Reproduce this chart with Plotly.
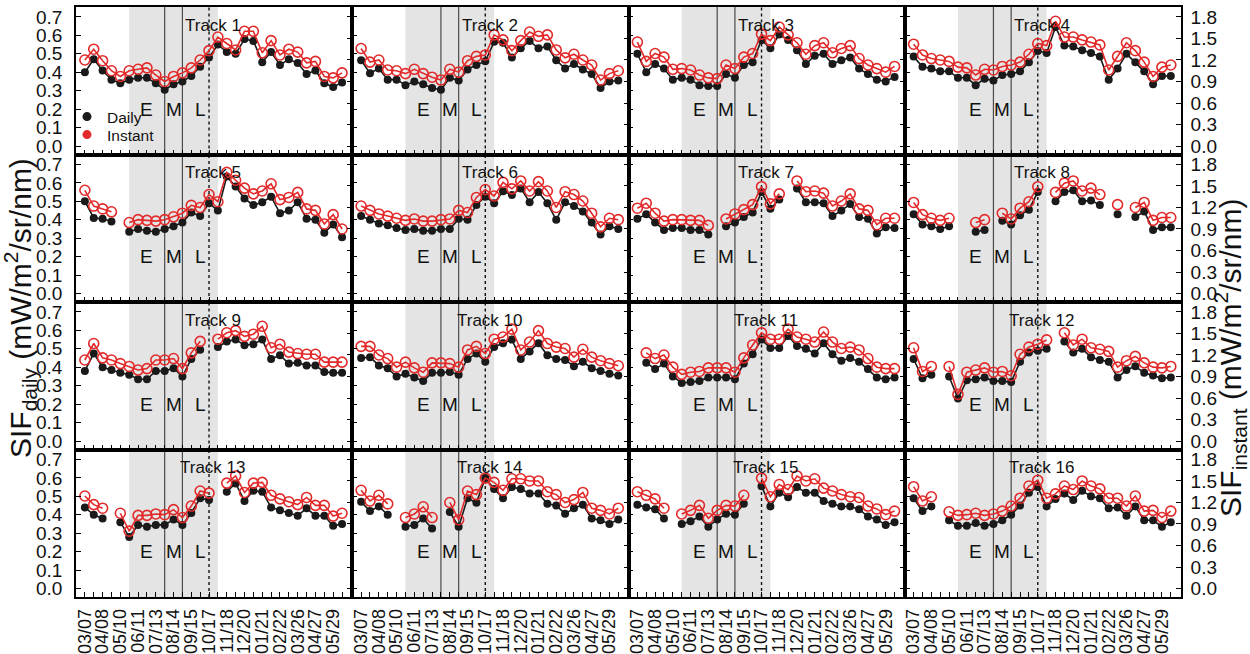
import plotly.graph_objects as go
from plotly.subplots import make_subplots

# Acquisition dates (every 16 days); every second one is labelled
TICK_LABELS = ["03/07", "04/08", "05/10", "06/11", "07/13", "08/14", "09/15", "10/17",
               "11/18", "12/20", "01/21", "02/22", "03/26", "04/27", "05/29"]
N_OBS = 30
N = None

# SIF daily (left axis) and SIF instant (right axis), mW/m2/sr/nm
T1_DAILY = [0.40, 0.47, 0.41, 0.36, 0.34, 0.36, 0.37, 0.37, 0.34, 0.305, 0.335, 0.35, 0.38, 0.43, 0.48,
            0.55, 0.51, 0.50, 0.58, 0.57, 0.455, 0.51, 0.44, 0.47, 0.45, 0.39, 0.41, 0.34, 0.32, 0.345]
T1_INSTANT = [1.20, 1.35, 1.19, 1.05, 0.97, 1.05, 1.07, 1.09, 0.99, 0.90, 0.97, 1.02, 1.09, 1.20, 1.33,
              1.52, 1.43, 1.34, 1.60, 1.60, 1.30, 1.47, 1.27, 1.35, 1.31, 1.16, 1.18, 0.97, 0.95, 1.02]
T2_DAILY = [0.465, 0.395, 0.42, 0.36, 0.36, 0.33, 0.35, 0.335, 0.315, 0.305, 0.37, 0.355, 0.415, 0.44, 0.46,
            0.565, 0.56, 0.48, 0.53, 0.57, 0.53, 0.54, 0.465, 0.42, 0.445, 0.415, 0.39, 0.315, 0.35, 0.355]
T2_INSTANT = [1.36, 1.17, 1.20, 1.06, 1.05, 1.01, 1.07, 1.01, 0.96, 0.92, 1.07, 1.03, 1.19, 1.25, 1.27,
              1.55, 1.48, 1.33, 1.47, 1.59, 1.53, 1.55, 1.34, 1.23, 1.28, 1.20, 1.13, 0.92, 1.01, 1.05]
T3_DAILY = [0.50, 0.40, 0.445, 0.42, 0.36, 0.37, 0.36, 0.33, 0.325, 0.325, 0.39, 0.37, 0.44, 0.455, 0.575,
            0.53, 0.605, 0.575, 0.52, 0.445, 0.49, 0.50, 0.445, 0.465, 0.48, 0.42, 0.39, 0.36, 0.35, 0.375]
T3_INSTANT = [1.45, 1.18, 1.29, 1.24, 1.07, 1.08, 1.06, 0.99, 0.95, 0.94, 1.13, 1.08, 1.24, 1.29, 1.56,
              1.47, 1.66, 1.55, 1.44, 1.28, 1.40, 1.44, 1.30, 1.36, 1.40, 1.22, 1.13, 1.08, 1.03, 1.11]
T4_DAILY = [0.485, 0.43, 0.42, 0.405, 0.405, 0.37, 0.37, 0.33, 0.365, 0.355, 0.385, 0.39, 0.405, 0.455, 0.515,
            0.505, 0.645, 0.545, 0.54, 0.52, 0.505, 0.485, 0.36, 0.42, 0.50, 0.455, 0.405, 0.335, 0.38, 0.38]
T4_INSTANT = [1.42, 1.27, 1.22, 1.20, 1.18, 1.10, 1.09, 0.99, 1.07, 1.06, 1.11, 1.13, 1.17, 1.28, 1.43,
              1.40, 1.74, 1.52, 1.52, 1.48, 1.45, 1.41, 1.06, 1.25, 1.44, 1.33, 1.17, 0.97, 1.10, 1.13]
T5_DAILY = [0.50, 0.41, 0.405, 0.39, N, 0.335, 0.35, 0.34, 0.335, 0.35, 0.365, 0.385, 0.44, 0.42, 0.49,
            0.45, 0.635, 0.58, 0.515, 0.48, 0.495, 0.525, 0.435, 0.45, 0.495, 0.405, 0.40, 0.33, 0.375, 0.305]
T5_INSTANT = [1.44, 1.22, 1.18, 1.14, N, 0.99, 1.03, 1.02, 1.01, 1.03, 1.07, 1.12, 1.23, 1.20, 1.38,
              1.28, 1.69, 1.58, 1.47, 1.39, 1.43, 1.53, 1.31, 1.34, 1.41, 1.18, 1.16, 0.97, 1.10, 0.90]
T6_DAILY = [0.42, 0.40, 0.38, 0.37, 0.355, 0.345, 0.35, 0.34, 0.34, 0.35, 0.35, 0.405, 0.40, 0.48, 0.525,
            0.49, 0.555, 0.535, 0.57, 0.495, 0.55, 0.49, 0.40, 0.495, 0.475, 0.445, 0.385, 0.32, 0.365, 0.35]
T6_INSTANT = [1.22, 1.16, 1.11, 1.08, 1.05, 1.02, 1.04, 1.01, 1.01, 1.03, 1.04, 1.16, 1.13, 1.34, 1.45,
              1.36, 1.55, 1.46, 1.57, 1.43, 1.56, 1.43, 1.20, 1.42, 1.38, 1.29, 1.12, 0.93, 1.05, 1.03]
T7_DAILY = [0.405, 0.43, 0.385, 0.345, 0.355, 0.355, 0.345, 0.345, 0.32, N, 0.365, 0.385, 0.415, 0.44, 0.55,
            0.46, 0.51, N, 0.57, 0.495, 0.495, 0.49, 0.42, 0.45, 0.485, 0.415, 0.405, 0.325, 0.36, 0.355]
T7_INSTANT = [1.19, 1.26, 1.12, 1.01, 1.03, 1.03, 1.02, 1.02, 0.95, N, 1.04, 1.11, 1.17, 1.24, 1.49,
              1.25, 1.39, N, 1.57, 1.42, 1.43, 1.40, 1.22, 1.29, 1.39, 1.18, 1.16, 0.96, 1.05, 1.05]
T8_DAILY = [0.43, 0.375, 0.365, 0.35, 0.365, N, N, 0.335, 0.345, N, 0.395, 0.375, 0.425, 0.455, 0.55,
            N, 0.50, 0.55, 0.56, 0.50, 0.505, 0.48, N, 0.43, N, 0.415, 0.445, 0.345, 0.36, 0.36]
T8_INSTANT = [1.27, 1.10, 1.05, 1.02, 1.05, N, N, 0.99, 1.03, N, 1.12, 1.04, 1.19, 1.28, 1.49,
              N, 1.41, 1.54, 1.57, 1.43, 1.47, 1.38, N, 1.24, N, 1.20, 1.27, 1.02, 1.06, 1.06]
T9_DAILY = [0.38, 0.475, 0.40, 0.385, 0.37, 0.36, 0.335, 0.335, 0.38, 0.38, 0.395, 0.35, 0.445, 0.495, N,
            0.51, 0.54, 0.55, 0.52, 0.525, 0.55, 0.445, 0.465, 0.42, 0.425, 0.41, 0.41, 0.375, 0.37, 0.37]
T9_INSTANT = [1.13, 1.36, 1.16, 1.13, 1.08, 1.04, 0.99, 1.01, 1.13, 1.13, 1.15, 1.01, 1.23, 1.39, N,
              1.42, 1.51, 1.54, 1.46, 1.49, 1.60, 1.30, 1.35, 1.24, 1.22, 1.21, 1.21, 1.10, 1.10, 1.10]
T10_DAILY = [0.45, 0.455, 0.41, 0.395, 0.35, 0.365, 0.345, 0.325, 0.37, 0.37, 0.375, 0.36, 0.445, 0.475, 0.43,
             0.51, 0.53, 0.55, 0.445, 0.485, 0.53, 0.465, 0.445, 0.44, 0.405, 0.43, 0.395, 0.38, 0.365, 0.355]
T10_INSTANT = [1.32, 1.32, 1.20, 1.15, 1.03, 1.10, 1.02, 0.96, 1.09, 1.09, 1.08, 1.03, 1.27, 1.32, 1.22,
               1.42, 1.45, 1.56, 1.27, 1.38, 1.54, 1.36, 1.31, 1.29, 1.17, 1.28, 1.17, 1.12, 1.08, 1.05]
T11_DAILY = [N, 0.425, 0.39, 0.42, 0.35, 0.315, 0.32, 0.325, 0.345, 0.345, 0.345, 0.335, 0.42, 0.47, 0.55,
             0.505, 0.505, 0.57, 0.515, 0.50, 0.475, 0.53, 0.47, 0.435, 0.45, 0.43, 0.39, 0.345, 0.335, 0.345]
T11_INSTANT = [N, 1.23, 1.15, 1.20, 1.03, 0.93, 0.96, 0.97, 1.02, 1.02, 1.02, 0.96, 1.16, 1.34, 1.51,
               1.42, 1.42, 1.56, 1.45, 1.42, 1.38, 1.52, 1.38, 1.29, 1.31, 1.27, 1.15, 1.03, 1.01, 1.01]
T12_DAILY = [0.445, 0.34, 0.36, N, 0.35, 0.23, 0.33, 0.335, 0.345, 0.325, 0.325, 0.32, 0.43, 0.48, 0.49,
             0.50, N, 0.54, 0.48, 0.50, 0.455, 0.44, 0.43, 0.345, 0.385, 0.405, 0.37, 0.355, 0.34, 0.345]
T12_INSTANT = [1.30, 0.97, 1.04, N, 1.04, 0.65, 0.96, 0.99, 1.02, 0.96, 0.97, 0.91, 1.21, 1.31, 1.35,
               1.41, N, 1.51, 1.34, 1.42, 1.30, 1.28, 1.25, 1.03, 1.12, 1.18, 1.09, 1.03, 1.02, 1.04]
T13_DAILY = [0.44, 0.40, 0.38, N, 0.36, 0.28, 0.345, 0.335, 0.345, 0.345, 0.375, 0.345, 0.41, 0.49, 0.48,
             N, 0.525, 0.57, 0.475, 0.53, 0.525, 0.44, 0.425, 0.41, 0.395, 0.435, 0.395, 0.395, 0.34, 0.35]
T13_INSTANT = [1.29, 1.17, 1.12, N, 1.05, 0.80, 1.02, 1.02, 1.04, 1.03, 1.10, 0.99, 1.15, 1.36, 1.33,
               N, 1.47, 1.57, 1.34, 1.47, 1.48, 1.30, 1.25, 1.21, 1.17, 1.27, 1.16, 1.16, 1.01, 1.05]
T14_DAILY = [0.47, 0.42, 0.445, 0.40, N, 0.335, 0.345, 0.38, 0.325, N, 0.415, 0.335, 0.49, 0.465, 0.60,
             0.54, 0.49, 0.55, 0.54, 0.515, 0.515, 0.46, 0.45, 0.405, 0.435, 0.455, 0.38, 0.37, 0.35, 0.375]
T14_INSTANT = [1.37, 1.22, 1.30, 1.18, N, 0.99, 1.04, 1.14, 0.99, N, 1.20, 0.96, 1.36, 1.31, 1.54,
               1.48, 1.37, 1.53, 1.53, 1.50, 1.50, 1.35, 1.31, 1.20, 1.24, 1.34, 1.12, 1.09, 1.04, 1.12]
T15_DAILY = [0.455, 0.44, 0.43, 0.38, N, 0.35, 0.365, 0.39, 0.335, 0.375, 0.405, 0.40, 0.46, N, 0.555,
             0.445, 0.52, 0.495, 0.55, 0.52, 0.52, 0.475, 0.46, 0.445, 0.445, 0.43, 0.39, 0.375, 0.345, 0.36]
T15_INSTANT = [1.35, 1.30, 1.25, 1.12, N, 1.04, 1.09, 1.16, 0.98, 1.09, 1.16, 1.15, 1.30, N, 1.54,
               1.28, 1.45, 1.38, 1.57, 1.50, 1.53, 1.40, 1.36, 1.31, 1.28, 1.27, 1.15, 1.11, 1.03, 1.08]
T16_DAILY = [0.49, 0.42, 0.445, N, 0.37, 0.34, 0.34, 0.355, 0.34, 0.35, 0.37, 0.40, 0.45, 0.52, 0.55,
             0.445, 0.485, 0.515, 0.48, 0.53, 0.50, 0.49, 0.435, 0.44, 0.395, 0.445, 0.37, 0.37, 0.335, 0.36]
T16_INSTANT = [1.42, 1.22, 1.28, N, 1.07, 1.02, 1.03, 1.05, 1.02, 1.04, 1.08, 1.15, 1.26, 1.43, 1.51,
               1.26, 1.32, 1.43, 1.38, 1.50, 1.43, 1.39, 1.26, 1.26, 1.15, 1.29, 1.08, 1.09, 0.99, 1.08]

TRACKS = [
    (T1_DAILY, T1_INSTANT), (T2_DAILY, T2_INSTANT), (T3_DAILY, T3_INSTANT), (T4_DAILY, T4_INSTANT),
    (T5_DAILY, T5_INSTANT), (T6_DAILY, T6_INSTANT), (T7_DAILY, T7_INSTANT), (T8_DAILY, T8_INSTANT),
    (T9_DAILY, T9_INSTANT), (T10_DAILY, T10_INSTANT), (T11_DAILY, T11_INSTANT), (T12_DAILY, T12_INSTANT),
    (T13_DAILY, T13_INSTANT), (T14_DAILY, T14_INSTANT), (T15_DAILY, T15_INSTANT), (T16_DAILY, T16_INSTANT),
]

OBS_INDEX = list(range(N_OBS))
TICK_TEXT = [TICK_LABELS[i // 2] if i % 2 == 0 else " " for i in OBS_INDEX]

# Growing-season window and its early / mid / late split (observation index)
SEASON_SPAN = (5, 15)
SEASON_SPLITS = [9, 11]
PEAK_MARK = 14
PHASE_LABELS = [("E", 7), ("M", 10), ("L", 13)]

FONT = "Liberation Sans, Arial, Helvetica, sans-serif"
RED = "#e32a2a"
BLACK = "#1a1a1a"
TEXT = "#111111"

DAILY_RANGE = [-0.046, 0.754]
INSTANT_RANGE = [DAILY_RANGE[0] * 1.8 / 0.7, DAILY_RANGE[1] * 1.8 / 0.7]

fig = make_subplots(rows=4, cols=4,
                    specs=[[{"secondary_y": True}] * 4 for _ in range(4)],
                    horizontal_spacing=0, vertical_spacing=0)

for i, (daily, instant) in enumerate(TRACKS):
    r, c = i // 4 + 1, i % 4 + 1
    fig.add_vrect(x0=SEASON_SPAN[0], x1=SEASON_SPAN[1], row=r, col=c,
                  fillcolor="#e4e4e4", line_width=0, layer="below",
                  exclude_empty_subplots=False)
    for xs in SEASON_SPLITS:
        fig.add_vline(x=xs, row=r, col=c, line=dict(color="#4a4a4a", width=1.2),
                      layer="below", exclude_empty_subplots=False)
    fig.add_vline(x=PEAK_MARK, row=r, col=c, line=dict(color="#111111", width=1.4, dash="dot"),
                  layer="below", exclude_empty_subplots=False)

    fig.add_trace(go.Scatter(x=OBS_INDEX, y=daily, mode="lines+markers",
                             line=dict(color=BLACK, width=1.6),
                             marker=dict(color=BLACK, size=8),
                             showlegend=False, hoverinfo="skip"),
                  row=r, col=c, secondary_y=False)
    fig.add_trace(go.Scatter(x=OBS_INDEX, y=instant, mode="lines+markers",
                             line=dict(color=RED, width=1.6),
                             marker=dict(symbol="circle-open", color=RED, size=10,
                                         line=dict(width=1.6, color=RED)),
                             showlegend=False, hoverinfo="skip"),
                  row=r, col=c, secondary_y=True)

    fig.add_annotation(x=14.5, y=0.655, text=f"Track {i + 1}", showarrow=False,
                       font=dict(family=FONT, size=17, color=TEXT),
                       row=r, col=c)
    for lab, xp in PHASE_LABELS:
        fig.add_annotation(x=xp, y=0.2, text=lab, showarrow=False,
                           font=dict(family=FONT, size=19, color=TEXT),
                           row=r, col=c)

# legend entries (one per legend box so the two rows sit close together)
fig.add_trace(go.Scatter(x=[None], y=[None], mode="markers", name="Daily",
                         marker=dict(color=BLACK, size=9), legend="legend"), row=1, col=1)
fig.add_trace(go.Scatter(x=[None], y=[None], mode="markers", name="Instant",
                         marker=dict(color=RED, size=9), legend="legend2"), row=1, col=1)

axis_common = dict(showline=True, linecolor="black", linewidth=1.6, showgrid=False,
                   zeroline=False, ticks="inside", ticklen=5, tickwidth=1.3, tickcolor="black",
                   automargin=False)

fig.update_xaxes(range=[-1.0, 30.15], tickmode="array", tickvals=OBS_INDEX, ticktext=TICK_TEXT,
                 mirror=True, showticklabels=False, **axis_common)
fig.update_xaxes(row=4, showticklabels=True, tickangle=-90, ticklabelstandoff=3,
                 tickfont=dict(family=FONT, size=18, color=TEXT))

for r in range(1, 5):
    for c in range(1, 5):
        # equal-width columns across the full plotting area
        fig.update_xaxes(row=r, col=c, domain=[(c - 1) / 4, c / 4])
        fig.update_yaxes(row=r, col=c, secondary_y=False, range=DAILY_RANGE,
                         tickmode="array", tickvals=[0, 0.1, 0.2, 0.3, 0.4, 0.5, 0.6, 0.7],
                         tickformat=".1f", showticklabels=(c == 1), ticklabelstandoff=8,
                         tickfont=dict(family=FONT, size=19, color=TEXT), **axis_common)
        fig.update_yaxes(row=r, col=c, secondary_y=True, range=INSTANT_RANGE,
                         tickmode="array", tickvals=[0, 0.3, 0.6, 0.9, 1.2, 1.5, 1.8],
                         tickformat=".1f", showticklabels=(c == 4), ticklabelstandoff=4,
                         tickfont=dict(family=FONT, size=19, color=TEXT), **axis_common)

fig.add_annotation(xref="paper", yref="paper", x=(20 - 76) / 1105, y=1 - (308 - 7) / 590,
                   textangle=-90, xanchor="center", yanchor="middle",
                   text="SIF<sub>daily</sub> (mW/m<sup>2</sup>/sr/nm)", showarrow=False,
                   font=dict(family=FONT, size=30, color=TEXT))
fig.add_annotation(xref="paper", yref="paper", x=(1230 - 76) / 1105, y=1 - (358 - 7) / 590,
                   textangle=-90, xanchor="center", yanchor="middle",
                   text="SIF<sub>instant</sub> (mW/m<sup>2</sup>/sr/nm)", showarrow=False,
                   font=dict(family=FONT, size=30, color=TEXT))

legend_style = dict(xanchor="left", yanchor="middle", bgcolor="rgba(0,0,0,0)", borderwidth=0,
                    font=dict(family=FONT, size=15.5, color=TEXT))
fig.update_layout(
    width=1250, height=654,
    margin=dict(l=76, r=69, t=7, b=57, autoexpand=False),
    paper_bgcolor="white", plot_bgcolor="white",
    font=dict(family=FONT, color=TEXT),
    legend=dict(x=(67 - 76) / 1105, y=1 - (117 - 7) / 590, **legend_style),
    legend2=dict(x=(67 - 76) / 1105, y=1 - (135 - 7) / 590, **legend_style),
)

fig.write_html("out.html")
